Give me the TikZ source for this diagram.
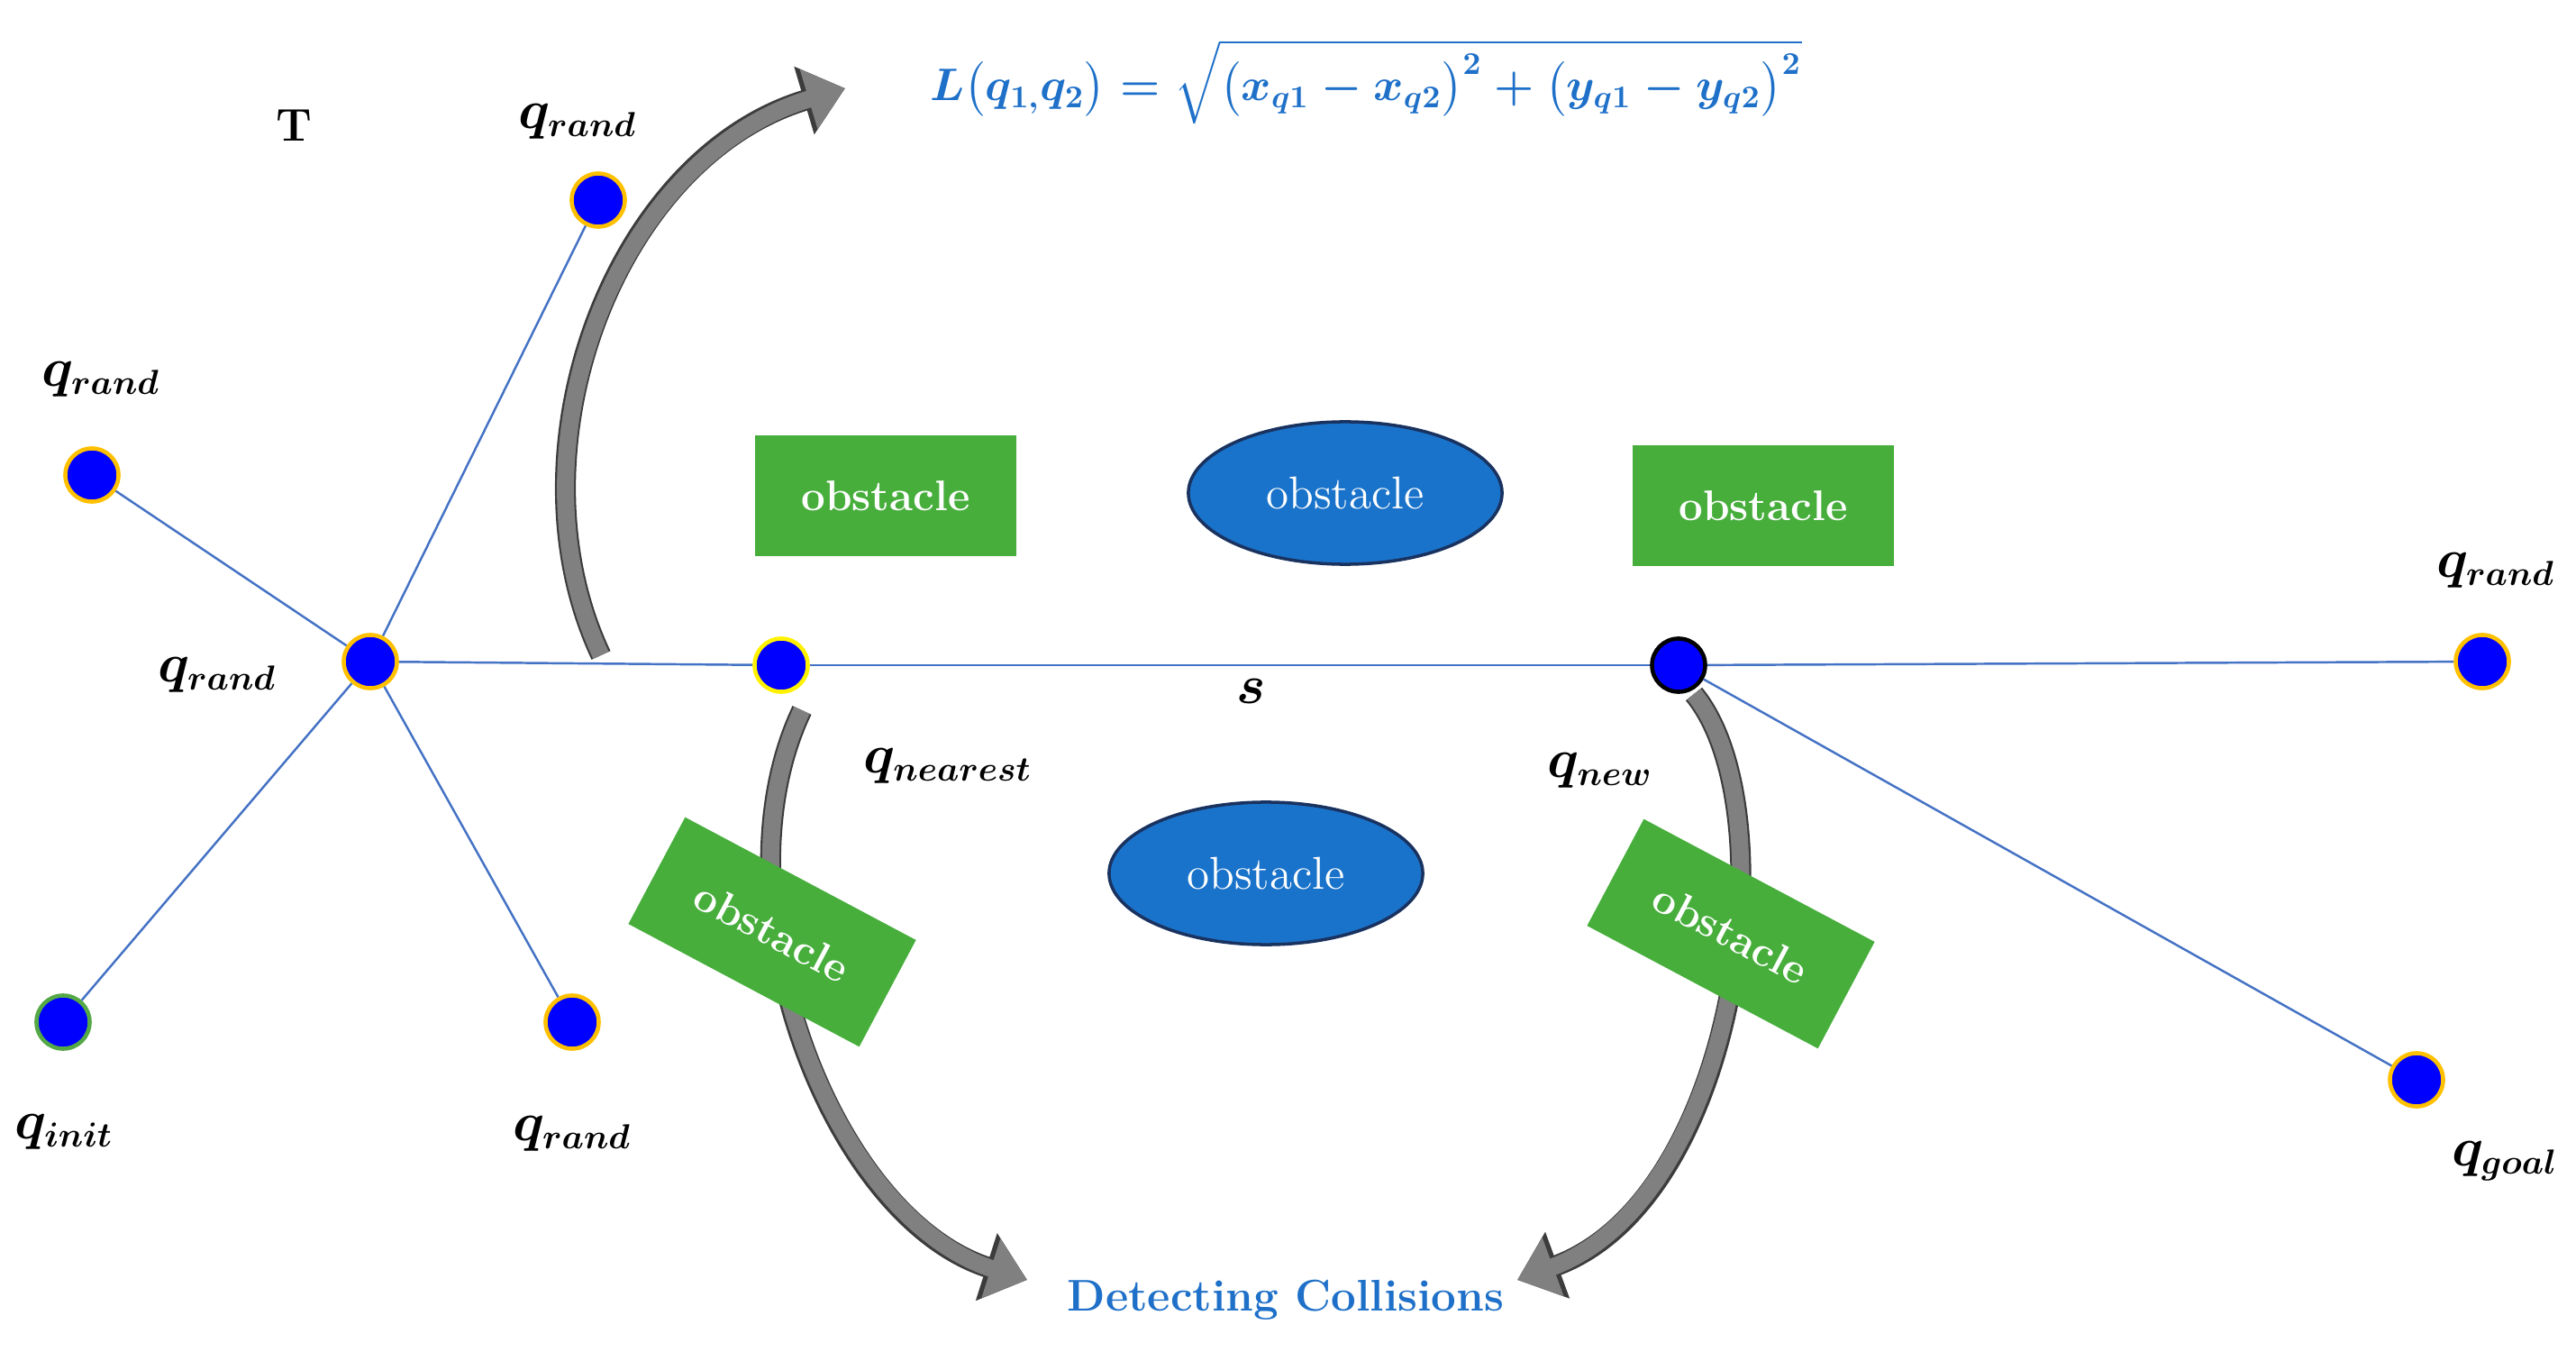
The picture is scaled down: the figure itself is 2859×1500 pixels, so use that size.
\documentclass[tikz,border=0pt]{standalone}
\usepackage{amsmath}
\usepackage{xcolor}
\usepackage{tikz}
\usetikzlibrary{shapes.geometric,arrows.meta}
\definecolor{treeblue}{RGB}{68,114,196}
\definecolor{vertexblue}{RGB}{0,0,255}
\definecolor{vertexorange}{RGB}{255,192,0}
\definecolor{vertexgreen}{RGB}{84,168,70}
\definecolor{obsgreen}{RGB}{71,174,60}
\definecolor{obsblue}{RGB}{26,115,202}
\definecolor{obsnavy}{RGB}{25,50,95}
\definecolor{formulablue}{RGB}{30,112,200}
\definecolor{arrowgray}{RGB}{128,128,128}
\definecolor{arrowdark}{RGB}{60,60,60}

\begin{document}
\begin{tikzpicture}[x=0.01cm, y=-0.01cm,
  vertex/.style={circle, fill=vertexblue, draw=vertexorange, line width=1.3pt, minimum size=0.59cm, inner sep=0pt},
  treeedge/.style={draw=treeblue, line width=0.7pt},
  qlabel/.style={font=\fontsize{16}{19}\selectfont},
  obsbox/.style={fill=obsgreen, text=white, minimum width=2.9cm, minimum height=1.34cm, inner sep=0pt, font=\fontsize{13.5}{16}\selectfont\bfseries},
  obsoval/.style={ellipse, fill=obsblue, draw=obsnavy, line width=1pt, text=white, minimum width=3.48cm, minimum height=1.58cm, inner sep=0pt, font=\fontsize{14.5}{17}\selectfont},
  bentarrow/.style={draw=arrowgray, line width=5.4pt, -{Triangle[length=12pt,width=19pt]},
    preaction={draw=arrowdark, line width=6.6pt, -{Triangle[length=13.5pt,width=21.5pt]}}}
]
\useasboundingbox (0,0) rectangle (2859,1500);

\coordinate (upTail) at (667,727);
\coordinate (upHead) at (938,98);
\coordinate (nearTail) at (890,788);
\coordinate (nearHead) at (1140,1420);
\coordinate (newTail) at (1880,770);
\coordinate (newHead) at (1684,1420);

\draw[bentarrow] (upTail) .. controls +(-107,-227) and +(-256,76) .. (upHead);
\draw[bentarrow] (nearTail) .. controls +(-100,210) and +(-220,-70) .. (nearHead);
\draw[bentarrow] (newTail) .. controls +(105,128) and +(246,-90) .. (newHead);

\node[obsbox] (obsTL) at (983,550) {obstacle};
\node[obsbox] (obsTR) at (1957,561) {obstacle};
\node[obsbox, rotate=-28] (obsBL) at (857,1034) {obstacle};
\node[obsbox, rotate=-28] (obsBR) at (1921,1036) {obstacle};
\node[obsoval] (ovalT) at (1493,547) {obstacle};
\node[obsoval] (ovalB) at (1405,969) {obstacle};

\node[vertex] (qtop) at (664,222) {};
\node[vertex] (qleft) at (102,527) {};
\node[vertex] (qhub) at (411,734) {};
\node[vertex, draw=vertexgreen] (qinit) at (70,1134) {};
\node[vertex] (qbottom) at (635,1134) {};
\node[vertex, draw=yellow] (qnear) at (867,738) {};
\node[vertex, draw=black] (qnew) at (1863,738) {};
\node[vertex] (qright) at (2755,734) {};
\node[vertex] (qgoal) at (2682,1198) {};

\draw[treeedge] (qhub) -- (qtop);
\draw[treeedge] (qhub) -- (qleft);
\draw[treeedge] (qhub) -- (qinit);
\draw[treeedge] (qhub) -- (qbottom);
\draw[treeedge] (qhub) -- (qnear);
\draw[treeedge] (qnear) -- (qnew);
\draw[treeedge] (qnew) -- (qright);
\draw[treeedge] (qnew) -- (qgoal);

\node[font=\fontsize{14.5}{17}\selectfont\bfseries] (tree) at (326,139) {T};
\node[qlabel] (ltop) at (641,135) {$\boldsymbol{q_{rand}}$};
\node[qlabel] (lleft) at (112,421) {$\boldsymbol{q_{rand}}$};
\node[qlabel] (lhub) at (241,749) {$\boldsymbol{q_{rand}}$};
\node[qlabel] (linit) at (71,1256) {$\boldsymbol{q_{init}}$};
\node[qlabel] (lbottom) at (635,1258) {$\boldsymbol{q_{rand}}$};
\node[qlabel] (lnear) at (1052,850) {$\boldsymbol{q_{nearest}}$};
\node[qlabel] (lnew) at (1776,855) {$\boldsymbol{q_{new}}$};
\node[qlabel] (lright) at (2770,633) {$\boldsymbol{q_{rand}}$};
\node[qlabel] (lgoal) at (2780,1288) {$\boldsymbol{q_{goal}}$};
\node[qlabel] (lstep) at (1389,767) {$\boldsymbol{s}$};

\node[font=\fontsize{14}{17}\selectfont\boldmath, text=formulablue] (formula) at (1516,91) {$L\bigl(q_{1,}q_2\bigr)=\sqrt{\bigl(x_{q1}-x_{q2}\bigr)^2+\bigl(y_{q1}-y_{q2}\bigr)^2}$};
\node[font=\fontsize{14}{17}\selectfont\bfseries, text=formulablue] (collide) at (1427,1442) {Detecting Collisions};
\end{tikzpicture}
\end{document}
